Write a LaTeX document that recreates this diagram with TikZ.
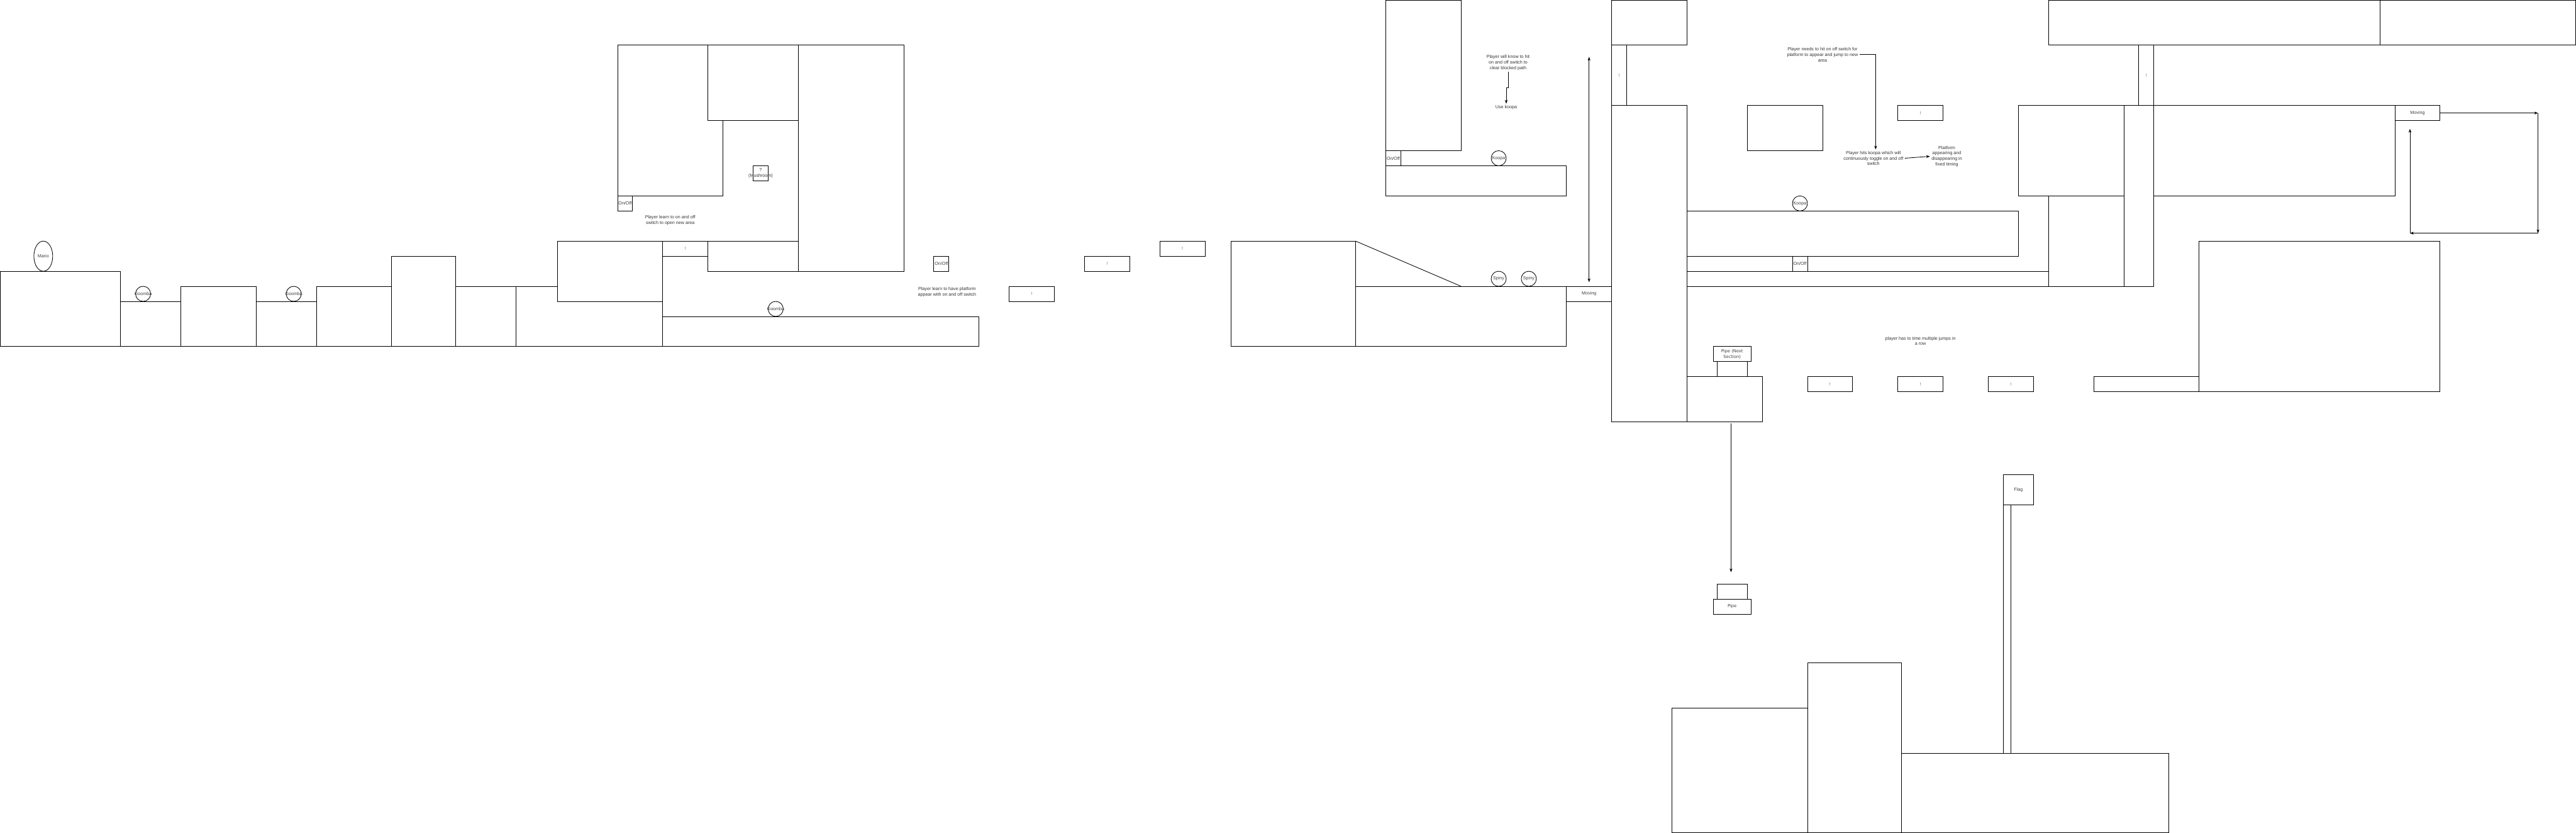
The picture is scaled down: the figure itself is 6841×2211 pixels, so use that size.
\documentclass[tikz,border=0pt]{standalone}
\usepackage{fontspec}
\setmainfont{Liberation Sans}
\newfontfamily\pipefont{DejaVu Sans}
\usetikzlibrary{shapes.geometric,arrows.meta}

\newcommand{\lvlfont}{\fontsize{3.4}{4.17}\selectfont}

\begin{document}
\begin{tikzpicture}[x=0.01cm, y=-0.01cm,
    blk/.style={draw, fill=white, line width=0.4pt, inner sep=0pt, outer sep=0pt,
                anchor=north west, font=\lvlfont, text=black!75, align=center},
    sz/.style 2 args={minimum width=#1*0.01cm, minimum height=#2*0.01cm},
    chr/.style={blk, ellipse, anchor=center},
    lbl/.style={font=\lvlfont, text=black!80, align=center, inner sep=1pt},
    >={Stealth[length=0.1cm, width=0.075cm]},
    arr/.style={line width=0.4pt, ->},
]
\useasboundingbox (0,0) rectangle (6841,2211);

% === Terrain blocks (name/x/y/width/height, top-left corner) ===
\foreach \nm/\bx/\by/\bw/\bh in {r1/0/720/320/200, r2/320/800/160/120,
        r3/480/760/200/160, r4/680/800/160/120, r5/840/760/200/160,
        r6/1040/680/170/240, r7/1210/760/160/160, r8/1370/760/390/160,
        rblk/1480/640/280/160, rground/1760/840/840/80,
        rleft/1640/120/280/400, rtop/1880/120/240/200, rtall/2120/120/280/600,
        rstep/1880/640/240/80,
        rhill/3270/640/330/280, rslope/3600/760/560/160,
        rwall/3680/0/200/400, rledge/3680/440/480/80,
        rcap/4280/0/200/120, rpillar/4280/280/200/840, rfloat/4640/280/200/120,
        rbridge/4480/560/880/120, rrail/4480/720/960/40,
        rblockA/5360/280/280/240, rshaft/5640/280/80/480, rblockB/5720/280/640/240,
        rblockC/5440/520/200/240, rroofA/5440/0/880/120, rroofB/6320/0/520/120,
        rcliff/5840/640/640/400, rlip/5560/1000/280/40,
        rpipebase/4480/1000/200/120, pipeAb/4560/960/80/40, pipeBb/4560/1550/80/40,
        rstairA/4440/1880/360/330, rstairB/4800/1760/250/450,
        rgoal/5050/2000/710/210, rpole/5320/1340/20/660} {
    \node[blk, sz={\bw}{\bh}] (\nm) at (\bx,\by) {};
}

% slope down to the spiny floor
\draw[line width=0.4pt] (rhill.north east) -- (3880,760);

% === Item blocks ===
\foreach \nm/\bx/\by/\bw/\bh in {ex1/1760/640/120/40, ex2/2680/760/120/40,
        ex3/2880/680/120/40, ex4/3080/640/120/40, ex5/4280/120/40/160,
        ex6/5040/280/120/40, ex7/4800/1000/120/40, ex8/5040/1000/120/40,
        ex9/5280/1000/120/40, ex10/5680/120/40/160} {
    \node[blk, sz={\bw}{\bh}, text=black!60] (\nm) at (\bx,\by) {!};
}
\foreach \nm/\bx/\by in {sw1/1640/520, sw2/2480/680, sw3/3680/400, sw4/4760/680} {
    \node[blk, sz={40}{40}] (\nm) at (\bx,\by) {On/Off};
}
\node[blk, sz={40}{40}] (mush) at (2000,440) {};
\node[lbl] (mushtxt) at (mush.center) {?\\(Mushroom)};

\node[blk, sz={120}{40}] (mv1) at (4160,760) {Moving};
\node[blk, sz={120}{40}] (mv2) at (6360,280) {Moving};
\node[blk, sz={80}{80}] (flag) at (5320,1260) {Flag};
\node[blk, sz={100}{40}, font={\pipefont\fontsize{3.2}{3.9}\selectfont}] (pipeA) at (4550,920) {Pipe (Next\\Section)};
\node[blk, sz={100}{40}, font={\pipefont\fontsize{3.2}{3.9}\selectfont}] (pipeB) at (4550,1590) {Pipe};

% === Characters (name/centre x/centre y/width/height/text) ===
\foreach \nm/\cx/\cy/\cw/\ch/\txt in {mario/115/680/50/80/Mario,
        goomba1/380/780/40/40/Goomba, goomba2/780/780/40/40/Goomba,
        goomba3/2060/820/40/40/Goomba, koopa1/3980/420/40/40/Koopa,
        koopa2/4780/540/40/40/Koopa, spiny1/3980/740/40/40/Spiny,
        spiny2/4060/740/40/40/Spiny} {
    \node[chr, sz={\cw}{\ch}] (\nm) at (\cx,\cy) {\makebox[0pt]{\txt}};
}

% === Notes ===
\node[lbl] (tswitch) at (1780,585) {Player learn to on and off\\switch to open new area};
\node[lbl] (tplat) at (2515,775) {Player learn to have platform\\appear with on and off switch};
\node[lbl] (tclear) at (4005,166) {Player will know to hit\\on and off switch to\\clear blocked path};
\node[lbl] (tkoopa) at (4000,285) {Use koopa};
\node[lbl] (tneed) at (4840,145) {Player needs to hit on off switch for\\platform to appear and jump to new\\area};
\node[lbl] (thits) at (4975,420) {Player hits koopa which will\\continuously toggle on and off\\switch};
\node[lbl] (ttime) at (5170,415) {Platform\\appearing and\\disappearing in\\fixed timing};
\node[lbl] (tjumps) at (5100,905) {player has to time multiple jumps in\\a row};

\draw[arr] (tclear.south) -- ++(0,42) -| (tkoopa.north);
\draw[arr] (tneed.east) -| ([xshift=0.06cm]thits.north);
\draw[arr] (thits.east) -- (ttime.west);

% === Movement paths ===
\coordinate (mvtop) at (4220,151);
\coordinate (mvbot) at (4220,749);
\draw[arr, <->] (mvtop) -- (mvbot);

\coordinate (pipego) at (4597,1124);
\coordinate (pipeland) at (4597,1519);
\draw[arr] (pipego) -- (pipeland);

\coordinate (loopa) at (6740,300);
\coordinate (loopb) at (6740,619);
\coordinate (loopc) at (6400,619);
\coordinate (loopd) at (6400,342);
\draw[arr] (mv2.east) -- (loopa);
\draw[arr] (loopa) -- (loopb);
\draw[arr] (loopb) -- (loopc);
\draw[arr] (loopc) -- (loopd);

\end{tikzpicture}
\end{document}
